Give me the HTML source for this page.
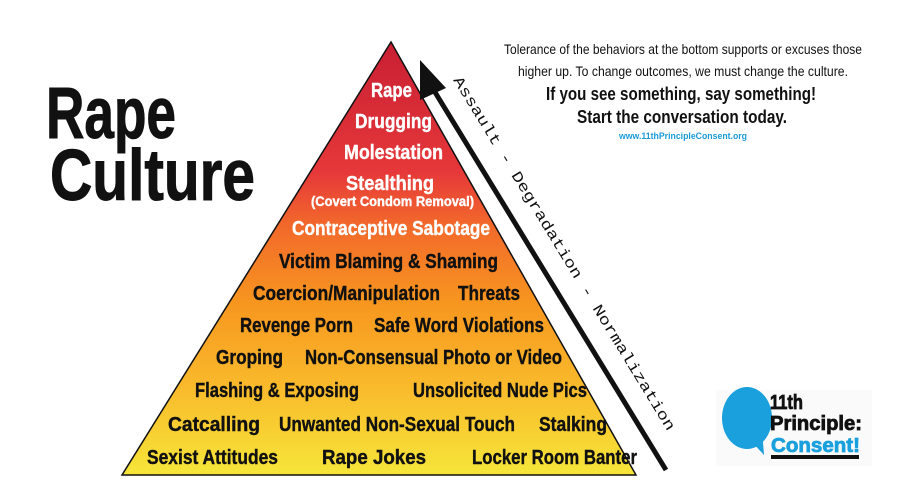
<!DOCTYPE html>
<html><head><meta charset="utf-8"><style>
html,body{margin:0;padding:0;background:#fff;}
svg{display:block}
.p{font-family:"Liberation Sans Narrow","Liberation Sans",sans-serif;font-weight:bold;font-size:20px;fill:#111;stroke:#111;stroke-width:0.4;}
.w{fill:#fff;stroke:#fff;}
</style></head><body>
<svg width="900" height="500" viewBox="0 0 900 500" xmlns="http://www.w3.org/2000/svg">
<defs>
<linearGradient id="g" x1="0" y1="42" x2="0" y2="476" gradientUnits="userSpaceOnUse">
<stop offset="0" stop-color="#c81f33"/>
<stop offset="0.3" stop-color="#e6383a"/>
<stop offset="0.42" stop-color="#f2682b"/>
<stop offset="0.6" stop-color="#f7961f"/>
<stop offset="0.8" stop-color="#f9bb2c"/>
<stop offset="1" stop-color="#f6e639"/>
</linearGradient>
</defs>
<polygon points="391,42 122,475 636,475" fill="url(#g)" stroke="#111" stroke-width="1.5"/>
<g class="p" text-anchor="start">
<text x="371" y="97" class="p w" textLength="41" lengthAdjust="spacingAndGlyphs">Rape</text>
<text x="355" y="128" class="p w" textLength="77" lengthAdjust="spacingAndGlyphs">Drugging</text>
<text x="344" y="159" class="p w" textLength="99" lengthAdjust="spacingAndGlyphs">Molestation</text>
<text x="346" y="190" class="p w" textLength="88" lengthAdjust="spacingAndGlyphs">Stealthing</text>
<text x="311" y="206" class="p w" style="font-size:14px" textLength="163" lengthAdjust="spacingAndGlyphs">(Covert Condom Removal)</text>
<text x="292" y="235" class="p w" textLength="198" lengthAdjust="spacingAndGlyphs">Contraceptive Sabotage</text>
<text x="279" y="268" textLength="219" lengthAdjust="spacingAndGlyphs">Victim Blaming &amp; Shaming</text>
<text x="253" y="300" textLength="187" lengthAdjust="spacingAndGlyphs">Coercion/Manipulation</text>
<text x="458" y="300" textLength="62" lengthAdjust="spacingAndGlyphs">Threats</text>
<text x="240" y="332" textLength="113" lengthAdjust="spacingAndGlyphs">Revenge Porn</text>
<text x="374" y="332" textLength="170" lengthAdjust="spacingAndGlyphs">Safe Word Violations</text>
<text x="216" y="364" textLength="67" lengthAdjust="spacingAndGlyphs">Groping</text>
<text x="305" y="364" textLength="257" lengthAdjust="spacingAndGlyphs">Non-Consensual Photo or Video</text>
<text x="195" y="397" textLength="164" lengthAdjust="spacingAndGlyphs">Flashing &amp; Exposing</text>
<text x="413" y="397" textLength="174" lengthAdjust="spacingAndGlyphs">Unsolicited Nude Pics</text>
<text x="168" y="431" textLength="92" lengthAdjust="spacingAndGlyphs">Catcalling</text>
<text x="279" y="431" textLength="236" lengthAdjust="spacingAndGlyphs">Unwanted Non-Sexual Touch</text>
<text x="539" y="431" textLength="68" lengthAdjust="spacingAndGlyphs">Stalking</text>
<text x="147" y="464" textLength="131" lengthAdjust="spacingAndGlyphs">Sexist Attitudes</text>
<text x="322" y="464" textLength="104" lengthAdjust="spacingAndGlyphs">Rape Jokes</text>
<text x="472" y="464" textLength="165" lengthAdjust="spacingAndGlyphs">Locker Room Banter</text>
</g>
<!-- arrow -->
<line x1="430" y1="84" x2="666" y2="470" stroke="#111" stroke-width="5"/>
<polygon points="420,60 446,88 420,100" fill="#111"/>
<text x="453" y="80" transform="rotate(58.6 453 80)" font-family="Liberation Mono,monospace" font-size="15" fill="#111" textLength="412" lengthAdjust="spacingAndGlyphs">Assault - Degradation - Normalization</text>
<!-- title -->
<g font-family="Liberation Sans Narrow,Liberation Sans,sans-serif" font-weight="bold" fill="#111" stroke="#111" stroke-width="1">
<text x="46" y="138" font-size="72" textLength="130" lengthAdjust="spacingAndGlyphs">Rape</text>
<text x="50" y="200" font-size="72" textLength="205" lengthAdjust="spacingAndGlyphs">Culture</text>
</g>
<!-- top right text -->
<g font-family="Liberation Sans Narrow,Liberation Sans,sans-serif" text-anchor="middle">
<text x="683" y="54" font-size="14" fill="#111" textLength="358" lengthAdjust="spacingAndGlyphs">Tolerance of the behaviors at the bottom supports or excuses those</text>
<text x="683" y="76" font-size="14" fill="#111" textLength="330" lengthAdjust="spacingAndGlyphs">higher up. To change outcomes, we must change the culture.</text>
<text x="681" y="100" font-size="18" font-weight="bold" fill="#111" textLength="270" lengthAdjust="spacingAndGlyphs">If you see something, say something!</text>
<text x="682" y="123" font-size="18" font-weight="bold" fill="#111" textLength="210" lengthAdjust="spacingAndGlyphs">Start the conversation today.</text>
<text x="683" y="139" font-size="9" font-weight="bold" fill="#1b9ad6" textLength="128" lengthAdjust="spacingAndGlyphs">www.11thPrincipleConsent.org</text>
</g>
<!-- logo -->
<rect x="716" y="390" width="156" height="76" fill="#fafafa"/>
<ellipse cx="747" cy="418" rx="25" ry="31" fill="#1aa0dd"/>
<polygon points="750,440 764,455 762,430" fill="#1aa0dd"/>
<g font-family="Liberation Sans Narrow,Liberation Sans,sans-serif" font-weight="bold" font-size="20" stroke-width="0.8">
<text x="770" y="409" fill="#111" stroke="#111" textLength="33" lengthAdjust="spacingAndGlyphs">11th</text>
<text x="770" y="430" fill="#111" stroke="#111" textLength="92" lengthAdjust="spacingAndGlyphs">Principle:</text>
<text x="771" y="452" fill="#1aa0dd" stroke="#1aa0dd" textLength="89" lengthAdjust="spacingAndGlyphs">Consent!</text>
</g>
<rect x="771" y="455" width="88" height="4" fill="#111"/>
</svg>
</body></html>
